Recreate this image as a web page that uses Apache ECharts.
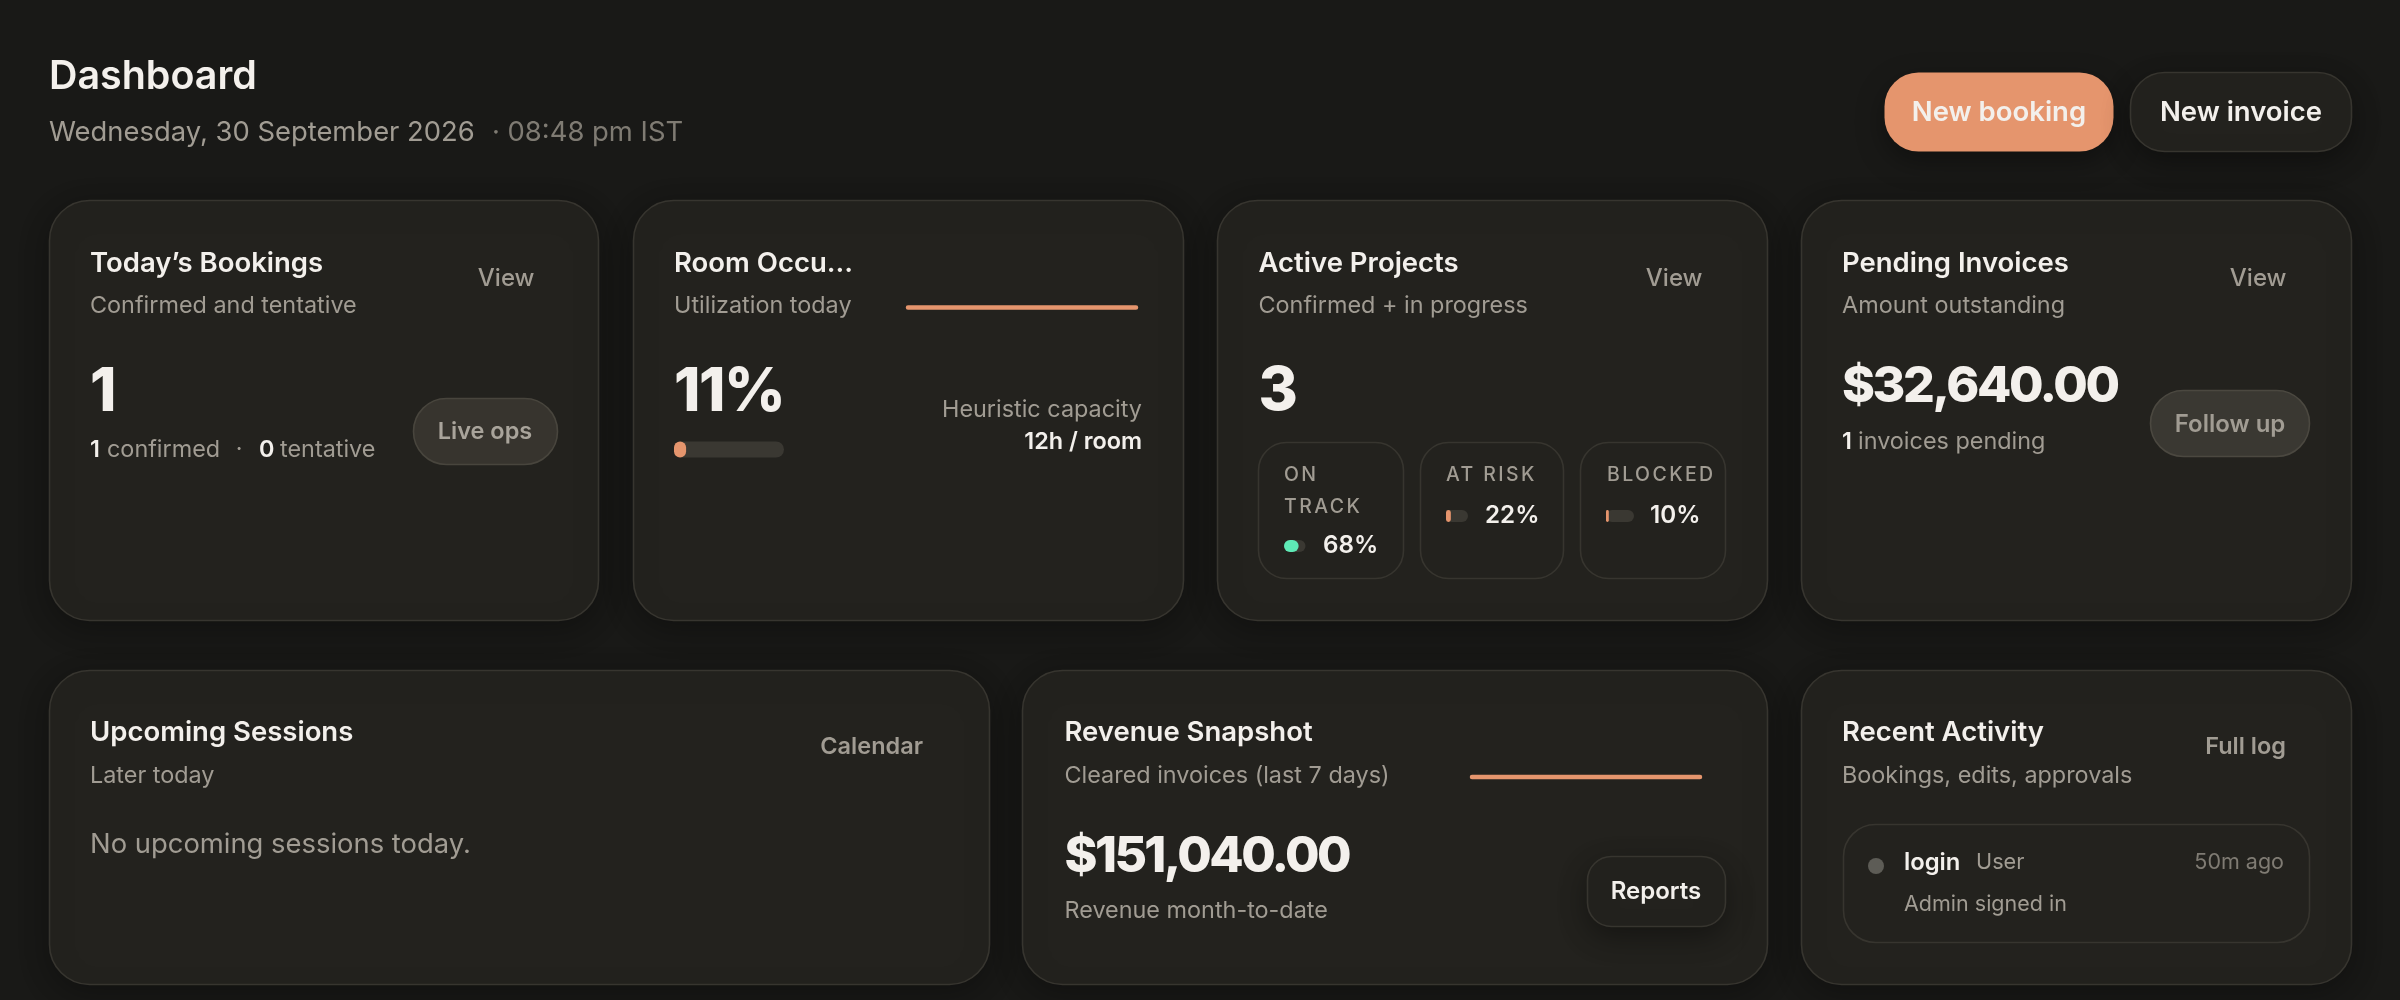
<!DOCTYPE html>
<html><head><meta charset="utf-8">
<script src="https://cdn.jsdelivr.net/npm/echarts@6/dist/echarts.min.js"></script>
<style>html,body{margin:0;padding:0;background:#191917}#c{width:2400px;height:1000px}</style>
</head><body><div id="c"></div>
<script>
// ---- data ----
const pageTitle = 'Dashboard';
const pageDate = 'Wednesday, 30 September 2026';
const pageTime = '· 08:48 pm IST';
const actions = ['New booking', 'New invoice'];
const cardTitles = ['Today’s Bookings', 'Room Occu…', 'Active Projects', 'Pending Invoices', 'Upcoming Sessions', 'Revenue Snapshot', 'Recent Activity'];
const cardSubtitles = ['Confirmed and tentative', 'Utilization today', 'Confirmed + in progress', 'Amount outstanding', 'Later today', 'Cleared invoices (last 7 days)', 'Bookings, edits, approvals'];
const cardLinks = ['View', 'View', 'View', 'Calendar', 'Full log'];
const bigValues = ['1', '11%', '3', '$32,640.00', '$151,040.00'];
const projectLabels = ['ON TRACK', 'AT RISK', 'BLOCKED'];
const projectShares = [68, 22, 10];
const occupancyShare = [11];
const occupancyTrend = [11, 11, 11, 11, 11, 11, 11];
const revenueTrend = [151040, 151040, 151040, 151040, 151040, 151040, 151040];

// ---- letter spacing for canvas text ----
const tracked = { 'ON': 2.4, 'TRACK': 2.4, 'AT RISK': 2.4, 'BLOCKED': 2.4,
  '11%': -1.5, '$32,640.00': -2.4, '$151,040.00': -2.6 };
const nativeFill = CanvasRenderingContext2D.prototype.fillText;
CanvasRenderingContext2D.prototype.fillText = function (t, x, y, m) {
  const s = tracked[t];
  if (s === undefined) return m === undefined ? nativeFill.call(this, t, x, y) : nativeFill.call(this, t, x, y, m);
  this.save(); this.letterSpacing = s + 'px';
  nativeFill.call(this, t, x, y); this.restore();
};

// ---- palette ----
const BG = '#191917', CARD = '#23221e', LINE = '#37352f', WHITE = '#f3f0ec', MUTED = '#a19c93', DIM = '#7f7b73',
      ORANGE = '#e5956d', MINT = '#5eeab6', TRACK = '#3a3832', FONT = 'Inter';

// ---- graphic helpers ----
const els = [];
function box(x0, y0, x1, y1, r, fill, stroke, shadow) {
  els.push({ type: 'rect', z: 1, shape: { x: x0 + .5, y: y0 + .5, width: x1 - x0, height: y1 - y0 - 1, r },
    style: Object.assign({ fill, stroke, lineWidth: stroke ? 1.6 : 0 }, shadow || {}) });
}
function txt(text, x, base, size, weight, fill, align) {
  els.push({ type: 'text', z: 3, x, y: base - 0.32 * size,
    style: { text, fill, font: `${weight} ${size}px ${FONT}`, textAlign: align || 'left', textVerticalAlign: 'middle' } });
}
const cardShadow = { shadowColor: 'rgba(0,0,0,.28)', shadowBlur: 30, shadowOffsetY: 8 };
const btnShadow = { shadowColor: 'rgba(0,0,0,.35)', shadowBlur: 28, shadowOffsetY: 10 };

// header
txt(pageTitle, 49, 90, 39.4, 600, WHITE);
txt(pageDate, 49, 141.5, 27.4, 400, MUTED);
txt(pageTime, 492, 141.5, 27.4, 400, DIM);
box(1884, 72, 2113, 152, 34, ORANGE, null, btnShadow);
txt(actions[0], 1999, 122, 27.5, 600, WHITE, 'center');
box(2130, 72, 2351, 152, 34, CARD, LINE, btnShadow);
txt(actions[1], 2241, 122, 27.5, 600, WHITE, 'center');

// cards
const rowTop = [200, 621], rowBottom = [670, 985];
const colsTop = [[49, 598], [633, 1183], [1217, 1767], [1801, 2351]];
const colsBottom = [[49, 989], [1022, 1767], [1801, 2351]];
colsTop.forEach(c => box(c[0], rowTop[0], c[1], rowTop[1], 40, CARD, LINE, cardShadow));
colsBottom.forEach(c => box(c[0], rowBottom[0], c[1], rowBottom[1], 40, CARD, LINE, cardShadow));

[90, 674, 1258.5, 1842].forEach((x, i) => {
  txt(cardTitles[i], x, 272.5, 27.5, 600, WHITE);
  txt(cardSubtitles[i], x, 313, 23.4, 400, MUTED);
});
[90, 1064.5, 1842].forEach((x, i) => {
  txt(cardTitles[i + 4], x, 741.5, 27.5, 600, WHITE);
  txt(cardSubtitles[i + 4], x, 783, 23.4, 400, MUTED);
});
txt(cardLinks[0], 534.5, 286, 24, 500, MUTED, 'right');
txt(cardLinks[1], 1702.5, 286, 24, 500, MUTED, 'right');
txt(cardLinks[2], 2286.5, 286, 24, 500, MUTED, 'right');
txt(cardLinks[3], 923, 754.5, 23.5, 600, MUTED, 'right');
txt(cardLinks[4], 2286, 754.5, 23.5, 600, MUTED, 'right');

// card 1
txt(bigValues[0], 90, 412, 60, 800, WHITE);
txt('1', 90, 457, 23.4, 600, WHITE);
txt('confirmed', 107, 457, 23.4, 400, MUTED);
txt('·', 239, 457, 23.4, 400, MUTED, 'center');
txt('0', 259, 457, 23.4, 600, WHITE);
txt('tentative', 280, 457, 23.4, 400, MUTED);
box(413, 398, 557, 465, 33, '#37342e', '#48453d');
txt('Live ops', 485, 439.5, 23.5, 600, '#a9a49b', 'center');

// card 2
txt(bigValues[1], 674, 412, 60, 800, WHITE);
txt('Heuristic capacity', 1142, 417.5, 23.4, 400, MUTED, 'right');
txt('12h / room', 1142, 449, 23.4, 600, WHITE, 'right');

// card 3
txt(bigValues[2], 1258.5, 411.5, 60, 800, WHITE);
box(1258, 442, 1403, 579, 28, CARD, LINE);
box(1420, 442, 1563, 579, 28, CARD, LINE);
box(1580, 442, 1725, 579, 28, CARD, LINE);
const labelWords = projectLabels[0].split(' ');
txt(labelWords[0], 1284, 481, 19.5, 500, MUTED);
txt(labelWords[1], 1284, 513, 19.5, 500, MUTED);
txt(projectLabels[1], 1446, 481, 19.5, 500, MUTED);
txt(projectLabels[2], 1607, 481, 19.5, 500, MUTED);
txt(projectShares[0] + '%', 1323, 553.5, 24.2, 600, WHITE);
txt(projectShares[1] + '%', 1485, 523.5, 24.2, 600, WHITE);
txt(projectShares[2] + '%', 1650, 523.5, 24.2, 600, WHITE);

// card 4
txt(bigValues[3], 1842, 403, 50, 800, WHITE);
txt('1', 1842, 449, 23.4, 600, WHITE);
txt('invoices pending', 1858, 449, 23.4, 400, MUTED);
box(2150, 390, 2309, 457, 33, '#3a3832', '#4b4840');
txt('Follow up', 2230, 432, 24, 600, MUTED, 'center');

// card 5
txt('No upcoming sessions today.', 90, 853.5, 27.4, 400, MUTED);

// card 6
txt(bigValues[4], 1064.5, 872.5, 50, 800, WHITE);
txt('Revenue month-to-date', 1064.5, 918.5, 23.4, 400, MUTED);
box(1587, 856, 1725, 927, 24, CARD, LINE, btnShadow);
txt('Reports', 1656, 899, 24, 600, WHITE, 'center');

// card 7
box(1843, 824, 2309, 943, 32, CARD, LINE);
els.push({ type: 'circle', z: 3, shape: { cx: 1876, cy: 866, r: 8 }, style: { fill: '#5d5c56' } });
txt('login', 1904, 870, 23.8, 600, WHITE);
txt('User', 1976, 869, 21.7, 400, MUTED);
txt('50m ago', 2284, 869, 21.5, 400, DIM, 'right');
txt('Admin signed in', 1904, 911, 21.5, 400, MUTED);

// ---- library-drawn marks ----
const grids = [], xAxes = [], yAxes = [], series = [];
function progress(value, left, top, width, height, color) {
  const i = grids.length;
  grids.push({ left, top, width, height, containLabel: false });
  xAxes.push({ gridIndex: i, type: 'value', min: 0, max: 100, show: false });
  yAxes.push({ gridIndex: i, type: 'category', data: ['share'], show: false });
  series.push({ type: 'bar', xAxisIndex: i, yAxisIndex: i, data: [value], barWidth: height, silent: true, animation: false,
    showBackground: true, backgroundStyle: { color: TRACK, borderRadius: height / 2 },
    itemStyle: { color, borderRadius: height / 2 } });
}
function trend(values, left, top, width, height) {
  const i = grids.length;
  grids.push({ left, top, width, height, containLabel: false });
  xAxes.push({ gridIndex: i, type: 'category', boundaryGap: false, data: values.map((_, k) => k), show: false });
  yAxes.push({ gridIndex: i, type: 'value', show: false, min: values[0] * 0.5, max: values[0] * 1.5 });
  series.push({ type: 'line', xAxisIndex: i, yAxisIndex: i, data: values, showSymbol: false, silent: true, animation: false, clip: false,
    lineStyle: { color: ORANGE, width: 4.5, cap: 'round' } });
}
progress(occupancyShare[0], 674, 441.5, 110, 16, ORANGE);
progress(projectShares[0], 1284, 540, 21.5, 12, MINT);
progress(projectShares[1], 1446, 510, 22, 12, ORANGE);
progress(projectShares[2], 1606, 510, 28, 12, ORANGE);
trend(occupancyTrend, 908, 297.5, 228, 20);
trend(revenueTrend, 1472, 767, 228, 20);

const chart = echarts.init(document.getElementById('c'), null, { renderer: 'canvas', devicePixelRatio: 1 });
chart.setOption({ backgroundColor: BG, animation: false, tooltip: { show: false },
  grid: grids, xAxis: xAxes, yAxis: yAxes, series, graphic: { elements: els } });
</script></body></html>
